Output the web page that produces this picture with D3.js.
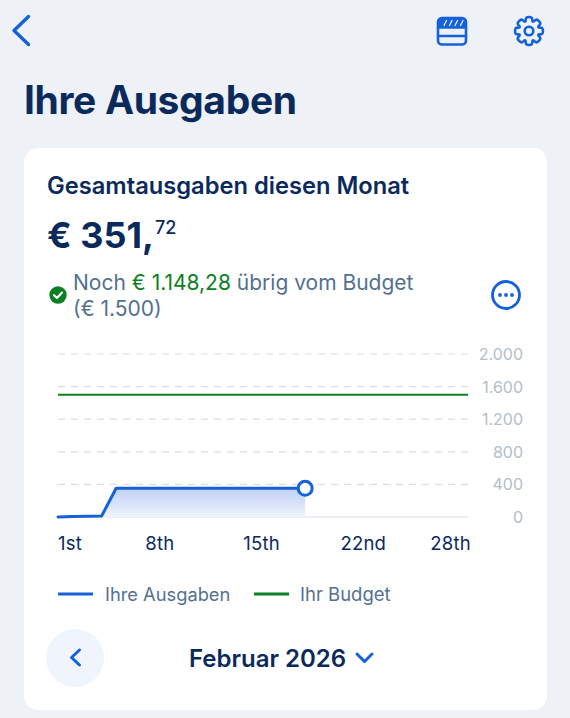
<!DOCTYPE html>
<html><head><meta charset="utf-8">
<script src="https://cdn.jsdelivr.net/npm/d3@7"></script>
<style>html,body{margin:0;padding:0;background:#EEF1F6}svg{display:block}text{font-family:Inter,"Noto Sans",sans-serif}</style>
</head><body><svg id="c" width="570" height="718"></svg>
<script>
const days=[1,2,3,4,5,6,7,8,9,10,11,12,13,14,15,16,17,18];
const spent=[0,5,9,12,352,352,352,352,352,352,352,352,352,352,352,352,352,352];
const budgetDays=[1,29.2];
const budget=[1500,1500];
const yTicks=[0,400,800,1200,1600,2000];
const xTickDays=[1,8,15,22,28];
const xTickLabels=["1st","8th","15th","22nd","28th"];
const legendLabels=["Ihre Ausgaben","Ihr Budget"];
const NAVY="#0B2A5C",BLUE="#1461DA",GREEN="#0B7F22",SLATE="#54708F",TICK="#B3BDCB";
const svg=d3.select("#c");
const x=d3.scaleLinear().domain([1,29.2]).range([58,468]);
const y=d3.scaleLinear().domain([0,2000]).range([517,354]);
const defs=svg.append("defs");
const g=defs.append("linearGradient").attr("id","fill").attr("x1",0).attr("x2",0).attr("y1",0).attr("y2",1);
g.append("stop").attr("offset",0).attr("stop-color","#BFD1F5");
g.append("stop").attr("offset",1).attr("stop-color","#EFF3FC");
function t(s,xp,yp,size,w,col,anchor,parent){return (parent||svg).append("text").attr("x",xp).attr("y",yp).attr("font-size",size).attr("font-weight",w).attr("fill",col).attr("text-anchor",anchor||"start").text(s);}
// header icons
const ic=svg.append("g").attr("fill","none").attr("stroke",BLUE).attr("stroke-linecap","round").attr("stroke-linejoin","round");
ic.append("path").attr("d","M28.5 16.5L14 30.5L28.5 44.5").attr("stroke-width",3.4);
ic.append("rect").attr("x",438).attr("y",18).attr("width",28).attr("height",26.5).attr("rx",4).attr("stroke-width",2.6);
ic.append("path").attr("d","M438 27.5H466M438 36H466").attr("stroke-width",2.4);
ic.append("rect").attr("x",438).attr("y",18).attr("width",28).attr("height",9).attr("rx",3).attr("fill",BLUE).attr("stroke","none");
ic.append("path").attr("d","M444 25.5L446.5 20.5M449.5 25.5L452 20.5M455 25.5L457.5 20.5M460.5 25.5L463 20.5").attr("stroke","#EEF1F6").attr("stroke-width",1.2);
// gear drawn from lobes
const lobes=8,ro=13.6,ri=10.2,pts=[];
for(let i=0;i<lobes;i++){const a=i/lobes*2*Math.PI;
 [[-0.36,ri],[-0.2,ro],[0.2,ro],[0.36,ri]].forEach(([d,r])=>pts.push([r*Math.cos(a+d),r*Math.sin(a+d)]));}
const gear=ic.append("g").attr("transform","translate(529,31)");
gear.append("path").attr("d",d3.line().curve(d3.curveCatmullRomClosed.alpha(0.5))(pts)).attr("stroke-width",2.6);
gear.append("circle").attr("r",4.3).attr("stroke-width",2.6);
t("Ihre Ausgaben",24,114,39,700,NAVY).attr("letter-spacing",-0.35);
// card
svg.append("rect").attr("x",24).attr("y",148).attr("width",523).attr("height",562).attr("rx",14).attr("fill","#fff");
t("Gesamtausgaben diesen Monat",47,194,23.7,600,NAVY);
t("€ 351,",47,248,36,700,NAVY);
t("72",155,234,18,500,NAVY);
const noch=t("Noch ",73,290,21,400,SLATE);
noch.append("tspan").attr("fill",GREEN).text("€ 1.148,28");
noch.append("tspan").text(" übrig vom Budget");
t("(€ 1.500)",73,316,21,400,SLATE);
svg.append("circle").attr("cx",58).attr("cy",295).attr("r",8.7).attr("fill",GREEN);
svg.append("path").attr("d","M54 295.2L57 298L62 292.6").attr("fill","none").attr("stroke","#fff").attr("stroke-width",2.2).attr("stroke-linecap","round").attr("stroke-linejoin","round");
svg.append("circle").attr("cx",506).attr("cy",295).attr("r",13.5).attr("fill","none").attr("stroke",BLUE).attr("stroke-width",2.8);
svg.selectAll(".dot").data([-6,0,6]).join("circle").attr("cx",d=>506+d).attr("cy",295).attr("r",1.9).attr("fill",BLUE);
// chart
svg.selectAll(".grid").data(yTicks).join("line").attr("x1",x(1)).attr("x2",x(29.2)).attr("y1",d=>y(d)).attr("y2",d=>y(d))
 .attr("stroke",d=>d===0?"#E6E9EE":"#DADDE2").attr("stroke-width",d=>d===0?1.6:1.2).attr("stroke-dasharray",d=>d===0?null:"7 6");
svg.selectAll(".yt").data(yTicks).join("text").attr("x",523).attr("y",d=>y(d)+6).attr("text-anchor","end").attr("font-size",16).attr("fill",TICK)
 .text(d=>d3.format(",")(d).replace(/,/g,"."));
const pts2=days.map((d,i)=>[d,spent[i]]);
svg.append("path").attr("fill","url(#fill)").attr("d",d3.area().x(d=>x(d[0])).y0(y(0)).y1(d=>y(d[1]))(pts2));
svg.append("path").attr("fill","none").attr("stroke",GREEN).attr("stroke-width",2).attr("d",d3.line().x(d=>x(d[0])).y(d=>y(d[1]))(budgetDays.map((d,i)=>[d,budget[i]])));
svg.append("path").attr("fill","none").attr("stroke",BLUE).attr("stroke-width",3).attr("stroke-linecap","round").attr("stroke-linejoin","round").attr("d",d3.line().x(d=>x(d[0])).y(d=>y(d[1]))(pts2));
svg.append("circle").attr("cx",x(18)).attr("cy",y(352)).attr("r",7).attr("fill","#fff").attr("stroke",BLUE).attr("stroke-width",3);
svg.selectAll(".xt").data(xTickDays).join("text").attr("x",(d,i)=>i===0?58:x(d)).attr("y",550).attr("text-anchor",(d,i)=>i===0?"start":"middle")
 .attr("font-size",18.5).attr("fill",NAVY).attr("letter-spacing",0.2).text((d,i)=>xTickLabels[i]);
// legend
svg.append("line").attr("x1",58).attr("x2",93).attr("y1",594).attr("y2",594).attr("stroke",BLUE).attr("stroke-width",3);
t(legendLabels[0],105,601,18.3,400,SLATE);
svg.append("line").attr("x1",254).attr("x2",289).attr("y1",594).attr("y2",594).attr("stroke",GREEN).attr("stroke-width",3);
t(legendLabels[1],300,601,18.5,400,SLATE);
// pager
svg.append("circle").attr("cx",75).attr("cy",658).attr("r",29).attr("fill","#F0F4FC");
svg.append("path").attr("d","M79.5 650L71.5 657.5L79.5 665").attr("fill","none").attr("stroke",BLUE).attr("stroke-width",3).attr("stroke-linecap","round").attr("stroke-linejoin","round");
t("Februar 2026",189,667,24,600,NAVY);
svg.append("path").attr("d","M357 654L364.5 661.5L372 654").attr("fill","none").attr("stroke",BLUE).attr("stroke-width",3).attr("stroke-linecap","round").attr("stroke-linejoin","round");
</script></body></html>
